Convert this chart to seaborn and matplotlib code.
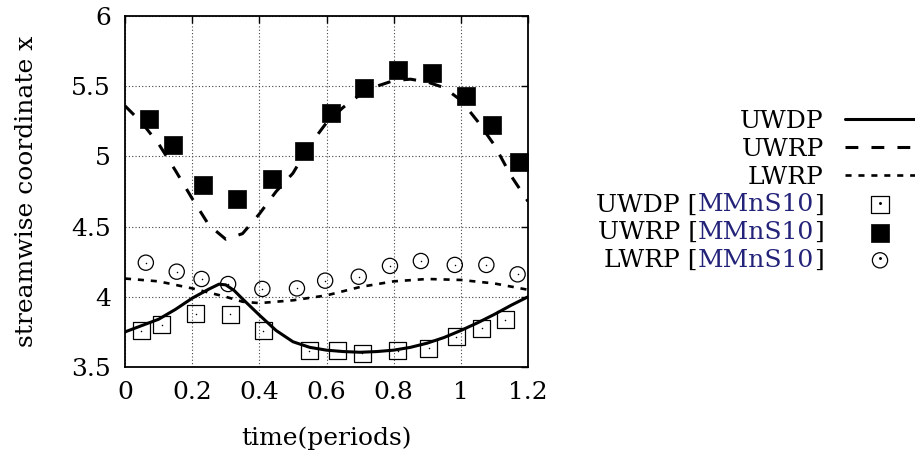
import numpy as np
import pandas as pd
import matplotlib
matplotlib.use("Agg")
import matplotlib.pyplot as plt
import seaborn as sns
from matplotlib.transforms import IdentityTransform
from matplotlib.lines import Line2D

# ---------------- data ----------------
uwdp_line_x = [0, 0.05, 0.1, 0.15, 0.2, 0.25, 0.28, 0.3, 0.325, 0.35, 0.4, 0.45, 0.5,
               0.55, 0.6, 0.65, 0.7, 0.75, 0.8, 0.85, 0.9, 0.95, 1.0, 1.05, 1.1, 1.15, 1.2]
uwdp_line_y = [3.75, 3.795, 3.84, 3.91, 3.99, 4.055, 4.09, 4.085, 4.045, 3.985, 3.87, 3.76, 3.68,
               3.64, 3.62, 3.61, 3.605, 3.61, 3.62, 3.64, 3.67, 3.71, 3.76, 3.815, 3.875, 3.94, 4.00]

uwrp_line_x = [0, 0.05, 0.1, 0.15, 0.2, 0.25, 0.3, 0.35, 0.4, 0.45, 0.5, 0.55, 0.6,
               0.65, 0.7, 0.75, 0.8, 0.85, 0.9, 0.95, 1.0, 1.05, 1.1, 1.15, 1.2]
uwrp_line_y = [5.36, 5.24, 5.09, 4.90, 4.70, 4.51, 4.41, 4.45, 4.59, 4.75, 4.88, 5.08, 5.24,
               5.35, 5.44, 5.50, 5.54, 5.55, 5.53, 5.49, 5.40, 5.25, 5.08, 4.86, 4.68]

lwrp_line_x = [0, 0.1, 0.2, 0.3, 0.35, 0.4, 0.5, 0.6, 0.7, 0.8, 0.9, 1.0, 1.1, 1.2]
lwrp_line_y = [4.13, 4.11, 4.06, 4.00, 3.965, 3.955, 3.975, 4.01, 4.07, 4.11, 4.127, 4.12, 4.095, 4.05]

uwdp_pts_x = [0.048, 0.110, 0.211, 0.313, 0.412, 0.549, 0.633, 0.707, 0.812, 0.905, 0.987, 1.062, 1.133]
uwdp_pts_y = [3.759, 3.80, 3.88, 3.877, 3.759, 3.614, 3.616, 3.597, 3.616, 3.633, 3.716, 3.775, 3.835]

uwrp_pts_x = [0.072, 0.142, 0.233, 0.334, 0.438, 0.533, 0.613, 0.712, 0.813, 0.915, 1.014, 1.093, 1.174]
uwrp_pts_y = [5.266, 5.081, 4.796, 4.694, 4.839, 5.038, 5.307, 5.485, 5.615, 5.592, 5.430, 5.224, 4.958]

lwrp_pts_x = [0.062, 0.154, 0.228, 0.307, 0.409, 0.512, 0.596, 0.696, 0.789, 0.881, 0.982, 1.076, 1.169]
lwrp_pts_y = [4.243, 4.179, 4.127, 4.091, 4.056, 4.06, 4.115, 4.143, 4.22, 4.255, 4.227, 4.227, 4.16]

x_ticks = [0, 0.2, 0.4, 0.6, 0.8, 1.0, 1.2]
x_tick_labels = ["0", "0.2", "0.4", "0.6", "0.8", "1", "1.2"]
y_ticks = [3.5, 4, 4.5, 5, 5.5, 6]
y_tick_labels = ["3.5", "4", "4.5", "5", "5.5", "6"]

line_labels = ["UWDP", "UWRP", "LWRP"]
ref_names = ["UWDP", "UWRP", "LWRP"]
ref_tag = "MMnS10"

# ---------------- style ----------------
sns.set_style("white")
plt.rcParams["font.family"] = ["DejaVu Serif"]
plt.rcParams["text.color"] = "black"
plt.rcParams["axes.labelcolor"] = "black"
plt.rcParams["xtick.color"] = "black"
plt.rcParams["ytick.color"] = "black"
FS = 18
LFS = 18
BLUE = "#23237a"

fig = plt.figure(figsize=(9.15, 4.59), dpi=100)
ax = fig.add_axes([125 / 915, 1 - 367 / 459, (528 - 125) / 915, (367 - 16) / 459])

lw = 2.2
sns.lineplot(x=uwdp_line_x, y=uwdp_line_y, ax=ax, color="black", linewidth=lw,
             linestyle="-", estimator=None, sort=False, label=line_labels[0])
sns.lineplot(x=uwrp_line_x, y=uwrp_line_y, ax=ax, color="black", linewidth=lw,
             linestyle=(0, (4.2, 4.3)), estimator=None, sort=False, label=line_labels[1])
sns.lineplot(x=lwrp_line_x, y=lwrp_line_y, ax=ax, color="black", linewidth=1.9,
             linestyle=(0, (2.3, 2.6)), estimator=None, sort=False, label=line_labels[2])

sns.scatterplot(x=uwdp_pts_x, y=uwdp_pts_y, ax=ax, marker="s", s=150,
                facecolor="none", edgecolor="black", linewidth=0.9,
                label=f"{ref_names[0]} [{ref_tag}]", zorder=3)
sns.scatterplot(x=uwrp_pts_x, y=uwrp_pts_y, ax=ax, marker="s", s=150,
                color="black", edgecolor="black", linewidth=0.5,
                label=f"{ref_names[1]} [{ref_tag}]", zorder=3)
sns.scatterplot(x=lwrp_pts_x, y=lwrp_pts_y, ax=ax, marker="o", s=120,
                facecolor="none", edgecolor="black", linewidth=0.9,
                label=f"{ref_names[2]} [{ref_tag}]", zorder=3)
# centre dots of the open markers
for xs, ys in [(uwdp_pts_x, uwdp_pts_y), (lwrp_pts_x, lwrp_pts_y)]:
    sns.scatterplot(x=xs, y=ys, ax=ax, marker="o", s=1.2, color="black",
                    linewidth=0, zorder=4, legend=False)

ax.set_xlim(0, 1.2)
ax.set_ylim(3.5, 6)
ax.set_xticks(x_ticks)
ax.set_xticklabels(x_tick_labels)
ax.set_yticks(y_ticks)
ax.set_yticklabels(y_tick_labels)
ax.tick_params(direction="in", length=5, width=1, top=True, right=True,
               labelsize=FS, pad=10, colors="black")
ax.grid(True, color="#444444", linestyle=(0, (1, 2)), linewidth=0.8)
for sp in ax.spines.values():
    sp.set_visible(True)
    sp.set_color("black")
    sp.set_linewidth(1.3)

ax.set_xlabel("time(periods)", fontsize=FS, labelpad=16, color="black")
ax.set_ylabel("streamwise coordinate x", fontsize=FS, labelpad=24, color="black")

# legend
handles, labels = ax.get_legend_handles_labels()
dot = Line2D([], [], marker="o", markersize=1.1, color="black", linestyle="none")
new_handles = []
for i, h in enumerate(handles):
    if i in (3, 5):
        new_handles.append((h, dot))
    else:
        new_handles.append(h)
leg = ax.legend(new_handles, labels, loc="center right",
                bbox_to_anchor=(1.0, 1 - 191 / 459), bbox_transform=fig.transFigure,
                frameon=False, markerfirst=False, fontsize=LFS, handlelength=2.8,
                handletextpad=0.85, labelspacing=0.19, borderpad=0, borderaxespad=0)
for t in leg.get_texts():
    t.set_color("black")

fig.canvas.draw()
renderer = fig.canvas.get_renderer()
for i, t in enumerate(leg.get_texts()[3:]):
    bb = t.get_window_extent(renderer)
    bx, by = t.get_transform().transform(t.get_position())
    t.set_alpha(0)
    pieces = [(f"{ref_names[i]} [", "black"), (ref_tag, BLUE), ("]", "black")]
    xr = bb.x1
    for s, c in reversed(pieces):
        tt = fig.text(xr, by, s, transform=IdentityTransform(), ha="right",
                      va="baseline", fontsize=LFS, color=c)
        w = tt.get_window_extent(renderer).width
        xr -= w

fig.savefig("out.png", dpi=100)
